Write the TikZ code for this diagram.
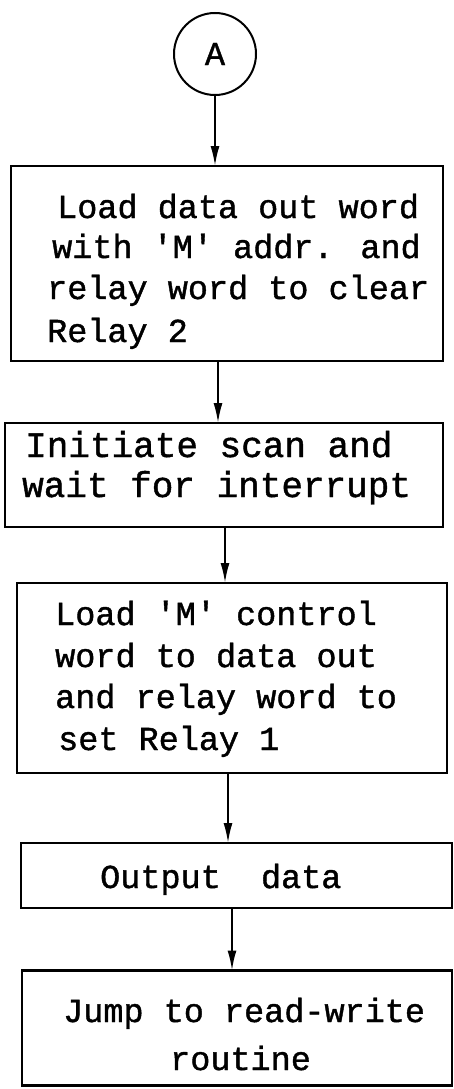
\documentclass[tikz,border=0pt]{standalone}
\usepackage{fontspec}
\usetikzlibrary{arrows.meta}
\newfontfamily\tw{Liberation Mono}[Ligatures=TeXOff,FakeBold=1.2]
\tikzset{
  box/.style={draw, line width=2.4pt, rectangle, inner sep=0pt, outer sep=0pt},
  conn/.style={circle, draw, line width=2pt, minimum size=82pt, inner sep=0pt, font=\tw\fontsize{33.5}{40}\selectfont},
  txt/.style={anchor=base west, inner sep=0pt, font=\tw\fontsize{33.5}{40}\selectfont},
  widetxt/.style={txt, font=\tw\fontsize{36}{40}\selectfont},
  arr/.style={line width=2pt, -{Latex[length=20pt,width=9pt]}}
}
\begin{document}
\begin{tikzpicture}[x=1pt,y=-1pt]
\useasboundingbox (0,0) rectangle (453,1089);
\node[conn] (A) at (215,54) {A};
\node[box, minimum width=432pt, minimum height=195pt] (b1) at (227,263.5) {};
\node[box, minimum width=438pt, minimum height=104pt] (b2) at (224,475) {};
\node[box, minimum width=430pt, minimum height=190pt] (b3) at (232,678) {};
\node[box, minimum width=431pt, minimum height=65pt] (b4) at (236.5,875.5) {};
\node[box, minimum width=430pt, minimum height=115pt] (b5) at (237,1028) {};
% texts
\node[txt] (t11) at (57,218) {Load data out word};
\node[txt] (t12) at (52,258) {with 'M' addr. and};
\node[txt] (t13) at (47,299) {relay word to clear};
\node[txt] (t14) at (47,342) {Relay 2};
\node[widetxt] (t21) at (25,457) {Initiate scan and};
\node[widetxt] (t22) at (22,497) {wait for interrupt};
\node[txt] (t31) at (55,625) {Load 'M' control};
\node[txt] (t32) at (55,667) {word to data out};
\node[txt] (t33) at (55,708) {and relay word to};
\node[txt] (t34) at (58,750) {set Relay 1};
\node[txt] (t41) at (100,888) {Output\ \ data};
\node[txt] (t51) at (63,1022) {Jump to read-write};
\node[txt] (t52) at (170,1070) {routine};
% connectors
\draw[arr] (A.south) -- (A.south |- b1.north);
\draw[arr] ([xshift=-9pt]b1.south) -- ([xshift=-6pt]b2.north);
\draw[arr] ([xshift=1pt]b2.south) -- ([xshift=-7pt]b3.north);
\draw[arr] ([xshift=-4pt]b3.south) -- ([xshift=-8.5pt]b4.north);
\draw[arr] ([xshift=-4.5pt]b4.south) -- ([xshift=-5pt]b5.north);
\end{tikzpicture}
\end{document}
